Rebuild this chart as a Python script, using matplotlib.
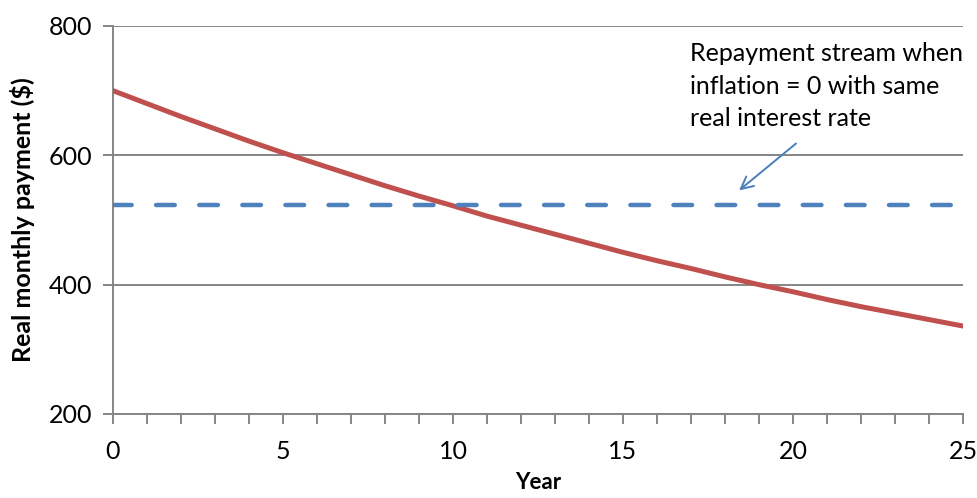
#!/usr/bin/env python3
"""Real monthly payment with and without inflation."""
import matplotlib
matplotlib.use("Agg")
import matplotlib.pyplot as plt

# values
years = list(range(0, 26))
real_payment = [700, 680, 660, 641, 622, 604, 587, 570, 553, 537,
                522, 506, 492, 478, 464, 450, 437, 425, 412, 400,
                389, 377, 366, 356, 346, 336]
zero_inflation_years = [0, 25]
zero_inflation_payment = [523, 523]

x_ticks = [0, 5, 10, 15, 20, 25]
y_ticks = [200, 400, 600, 800]
note = "Repayment stream when\ninflation = 0 with same\nreal interest rate"
arrow_from = (20.15, 621)
arrow_to = (18.35, 543)

plt.rcParams["font.family"] = ["Lato", "DejaVu Sans"]
grey = "#868686"

fig = plt.figure(figsize=(9.78, 4.98), dpi=100)
ax = fig.add_axes([0.1155, 0.1687, 0.8692, 0.7791])

ax.plot(years, real_payment, color="#c0504d", lw=3.6, solid_capstyle="round", zorder=3)
ax.plot(zero_inflation_years, zero_inflation_payment, color="#4f81bd", lw=3.2,
        dashes=(4.2, 5.5), dash_capstyle="round", zorder=3)

ax.set_xlim(0, 25)
ax.set_ylim(200, 800)
ax.set_xticks(x_ticks)
ax.set_xticks(years, minor=True)
ax.set_yticks(y_ticks)
ax.yaxis.grid(True, color=grey, lw=1.4)
ax.set_axisbelow(True)
for side in ["top", "right"]:
    ax.spines[side].set_visible(False)
for side in ["left", "bottom"]:
    ax.spines[side].set_color(grey)
    ax.spines[side].set_linewidth(1.4)
ax.tick_params(axis="both", which="both", color=grey, width=1.4, length=7,
               labelsize=18, direction="out")
ax.tick_params(axis="x", pad=12)
ax.tick_params(axis="y", pad=8)

ax.set_xlabel("Year", fontsize=16, fontweight="bold", labelpad=6)
ax.set_ylabel("Real monthly payment ($)", fontsize=18, fontweight="bold", labelpad=10)

ax.text(16.97, 775, note, fontsize=18, va="top", ha="left", linespacing=1.5)
ax.annotate("", xy=arrow_to, xytext=arrow_from,
            arrowprops=dict(arrowstyle="->", color="#4a7ebb", lw=1.4,
                            mutation_scale=22))

fig.savefig("out.png", dpi=100)
print("wrote out.png")
